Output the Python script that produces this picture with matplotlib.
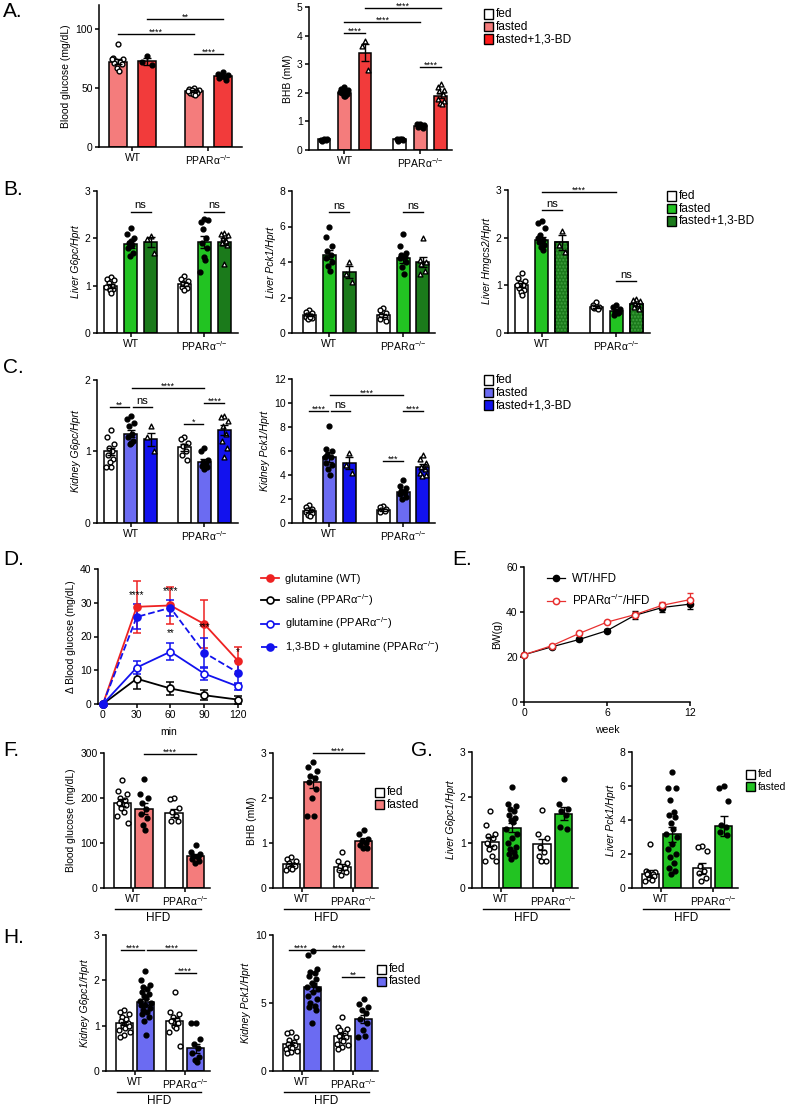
import numpy as np
import matplotlib.pyplot as plt
from matplotlib.patches import Rectangle

plt.rcParams['font.family'] = ['Liberation Sans', 'DejaVu Sans']
plt.rcParams['mathtext.default'] = 'regular'
plt.rcParams['font.size'] = 7.5
plt.rcParams['axes.linewidth'] = 1.1

W, H = 789, 1107
KO = 'PPARα$^{{-}/{-}}$'

RED_L, RED = '#F47C7C', '#F23B3B'
GRN_L, GRN_D = '#22C322', '#1B7A1B'
BLU_L, BLU = '#6B6BF2', '#1212EE'

# ---- A: blood glucose (fasted, fasted+1,3-BD) and BHB
a_glc_means = [72, 72.5, 47, 60]
a_glc_sems = [2.2, 3.0, 0.8, 1.0]
a_glc_pts = [[87, 75, 74, 73, 72, 71, 70, 67, 64, 74],
             [77, 72, 69],
             [50, 49, 48, 48, 47, 46, 46, 45, 44, 47],
             [63, 62, 61, 60, 59, 58, 57, 60]]
a_bhb_means = [0.37, 2.0, 3.4, 0.37, 0.85, 1.9]
a_bhb_sems = [0.02, 0.04, 0.3, 0.02, 0.02, 0.08]
a_bhb_pts = [[0.4, 0.35, 0.38, 0.33, 0.36],
             [2.2, 2.15, 2.1, 2.05, 2.0, 1.98, 1.95, 1.9, 1.88, 2.02],
             [3.8, 3.65, 2.8],
             [0.4, 0.38, 0.35, 0.33, 0.37],
             [0.92, 0.9, 0.88, 0.85, 0.83, 0.8, 0.78, 0.86],
             [2.3, 2.2, 2.1, 2.05, 1.95, 1.8, 1.7, 1.65, 1.62]]

# ---- B: liver genes
b_g6pc_means = [1.0, 1.87, 1.92, 1.03, 1.92, 1.93]
b_g6pc_sems = [0.04, 0.07, 0.1, 0.04, 0.12, 0.08]
b_g6pc_pts = [[1.18, 1.15, 1.12, 1.05, 1.0, 0.97, 0.93, 0.9, 0.85, 0.98],
              [2.22, 2.1, 2.0, 1.9, 1.85, 1.8, 1.7, 1.62, 1.95],
              [2.05, 1.98, 1.7],
              [1.2, 1.15, 1.1, 1.05, 1.02, 0.98, 0.95, 0.9],
              [2.4, 2.35, 2.38, 2.2, 2.0, 1.9, 1.8, 1.6, 1.55, 1.28],
              [2.12, 2.1, 2.08, 2.0, 1.95, 1.9, 1.85, 1.45]]
b_pck1_means = [1.0, 4.4, 3.45, 1.0, 4.2, 4.0]
b_pck1_sems = [0.06, 0.25, 0.33, 0.09, 0.25, 0.28]
b_pck1_pts = [[1.3, 1.2, 1.1, 1.0, 0.95, 0.9, 0.85, 0.8, 0.9],
              [6.0, 5.4, 4.9, 4.6, 4.4, 4.2, 4.0, 3.8, 3.5],
              [4.0, 3.3, 2.9],
              [1.4, 1.3, 1.1, 1.0, 0.9, 0.8, 0.7],
              [5.6, 4.9, 4.5, 4.4, 4.3, 4.2, 4.0, 3.7, 3.3],
              [5.35, 4.1, 4.0, 3.9, 3.5, 3.3]]
b_hmg_means = [1.0, 1.95, 1.9, 0.55, 0.47, 0.6]
b_hmg_sems = [0.04, 0.06, 0.15, 0.02, 0.03, 0.03]
b_hmg_pts = [[1.25, 1.15, 1.1, 1.05, 1.0, 0.95, 0.9, 0.85, 0.8, 1.0],
             [2.35, 2.3, 2.2, 2.05, 1.95, 1.9, 1.85, 1.8, 1.75, 2.0],
             [2.15, 1.85, 1.7],
             [0.65, 0.58, 0.55, 0.52, 0.5, 0.55],
             [0.58, 0.55, 0.5, 0.45, 0.42, 0.38, 0.45],
             [0.72, 0.7, 0.68, 0.62, 0.58, 0.55, 0.5]]

# ---- C: kidney genes
c_g6pc_means = [1.0, 1.25, 1.17, 1.06, 0.85, 1.3]
c_g6pc_sems = [0.05, 0.05, 0.09, 0.05, 0.04, 0.07]
c_g6pc_pts = [[1.3, 1.2, 1.1, 1.05, 1.0, 0.95, 0.9, 0.85, 0.78, 0.78],
              [1.5, 1.45, 1.4, 1.35, 1.25, 1.2, 1.15, 1.1, 1.12],
              [1.35, 1.2, 1.0],
              [1.2, 1.17, 1.12, 1.08, 1.0, 0.95, 0.88],
              [1.05, 1.0, 0.88, 0.85, 0.83, 0.8, 0.78, 0.75],
              [1.5, 1.48, 1.42, 1.35, 1.25, 1.15, 1.05, 0.92]]
c_pck1_means = [1.0, 5.5, 5.0, 1.1, 2.6, 4.7]
c_pck1_sems = [0.08, 0.4, 0.5, 0.06, 0.18, 0.2]
c_pck1_pts = [[1.5, 1.3, 1.2, 1.1, 1.0, 0.9, 0.8, 0.7, 0.6],
              [8.1, 6.2, 6.0, 5.7, 5.5, 5.0, 4.8, 4.5, 4.0, 5.5],
              [5.8, 4.8, 4.2],
              [1.4, 1.3, 1.2, 1.1, 1.0, 0.9],
              [3.6, 3.1, 2.9, 2.7, 2.5, 2.4, 2.2, 2.0],
              [5.7, 5.3, 5.0, 4.7, 4.5, 4.2, 4.0, 3.9]]

# ---- D: glutamine tolerance
d_min = [0, 30, 60, 90, 120]
d_glut_wt = [0, 28.8, 29.2, 23.7, 12.8]
d_glut_wt_err = [0, 7.7, 5.5, 7.0, 4.0]
d_saline_ko = [0, 7.5, 4.6, 2.6, 1.3]
d_saline_ko_err = [0, 3.0, 1.8, 1.5, 1.2]
d_glut_ko = [0, 10.8, 15.5, 9.0, 5.2]
d_glut_ko_err = [0, 2.0, 2.5, 1.8, 1.0]
d_bd_glut_ko = [0, 25.8, 28.5, 15.2, 9.3]
d_bd_glut_ko_err = [0, 3.7, 2.3, 4.3, 3.5]
d_star_x = [30, 60, 60, 90, 120]
d_star_y = [30.8, 31.9, 19.5, 21.4, 14.0]
d_star_txt = ['****', '****', '**', '***', '*']

# ---- E: body weight
e_week = [0, 2, 4, 6, 8, 10, 12]
e_wt = [21, 24.5, 27.8, 31.7, 38.5, 42, 43.5]
e_wt_err = [0.5, 0.6, 0.6, 0.6, 1.8, 1.8, 2.2]
e_ko = [21, 25, 30.5, 35.5, 38.8, 43, 45.5]
e_ko_err = [0.4, 0.5, 0.5, 0.6, 1.2, 1.6, 2.8]

# ---- F/G/H: HFD
f_glc_means = [190, 176, 166, 71]
f_glc_sems = [8, 12, 9, 5]
f_glc_pts = [[240, 215, 210, 200, 195, 190, 185, 178, 170, 160, 145],
             [242, 210, 200, 190, 175, 165, 155, 140, 130],
             [200, 198, 178, 170, 160, 150, 148],
             [95, 80, 75, 72, 68, 65, 60, 55]]
f_bhb_means = [0.53, 2.35, 0.47, 1.05]
f_bhb_sems = [0.03, 0.13, 0.06, 0.06]
f_bhb_pts = [[0.7, 0.65, 0.6, 0.55, 0.52, 0.5, 0.48, 0.45, 0.42, 0.4],
             [2.8, 2.7, 2.6, 2.5, 2.45, 2.35, 2.2, 2.0, 1.6, 1.6],
             [0.8, 0.6, 0.55, 0.5, 0.45, 0.4, 0.35, 0.3],
             [1.3, 1.2, 1.1, 1.05, 1.0, 0.95, 0.9, 0.88]]
g_g6pc_means = [1.02, 1.33, 0.96, 1.64]
g_g6pc_sems = [0.1, 0.1, 0.13, 0.14]
g_g6pc_pts = [[1.7, 1.4, 1.2, 1.15, 1.1, 1.0, 0.9, 0.85, 0.7, 0.6, 0.6],
              [2.22, 1.85, 1.8, 1.75, 1.7, 1.6, 1.55, 1.5, 1.45, 1.3, 1.2,
               1.1, 1.0, 0.9, 0.85, 0.8, 0.75, 0.7, 0.65],
              [1.73, 1.2, 1.1, 0.9, 0.8, 0.7, 0.6, 0.6],
              [2.4, 1.85, 1.75, 1.7, 1.6, 1.35, 1.3]]
g_pck1_means = [0.85, 3.15, 1.15, 3.65]
g_pck1_sems = [0.2, 0.45, 0.3, 0.6]
g_pck1_pts = [[2.6, 1.0, 0.95, 0.9, 0.85, 0.8, 0.7, 0.6, 0.5, 0.4],
              [6.8, 5.9, 5.9, 5.2, 4.5, 4.3, 4.2, 3.8, 3.5, 3.2, 3.0, 2.6,
               2.3, 2.0, 1.8, 1.5, 1.2, 1.0, 0.8],
              [2.5, 2.4, 2.2, 1.3, 1.0, 0.9, 0.6, 0.4],
              [6.0, 5.9, 5.1, 3.7, 3.6, 3.3, 3.1]]
h_g6pc_means = [1.05, 1.52, 1.1, 0.5]
h_g6pc_sems = [0.04, 0.07, 0.08, 0.1]
h_g6pc_pts = [[1.35, 1.3, 1.25, 1.2, 1.15, 1.1, 1.05, 1.0, 0.95, 0.9, 0.85, 0.8, 0.75, 1.0],
              [2.2, 2.0, 1.9, 1.85, 1.8, 1.75, 1.7, 1.65, 1.6, 1.55, 1.5, 1.45,
               1.45, 1.4, 1.35, 1.3, 1.25, 1.2, 1.1, 0.8],
              [1.75, 1.3, 1.25, 1.2, 1.15, 1.1, 1.05, 1.0, 0.95, 0.85, 0.55],
              [1.05, 1.05, 0.7, 0.6, 0.5, 0.4, 0.3, 0.25, 0.2]]
h_pck1_means = [2.0, 6.15, 2.6, 3.85]
h_pck1_sems = [0.12, 0.3, 0.18, 0.3]
h_pck1_pts = [[2.9, 2.8, 2.5, 2.3, 2.1, 2.0, 1.9, 1.8, 1.7, 1.6, 1.5, 1.4, 1.3],
              [8.8, 8.5, 7.5, 7.3, 7.2, 7.0, 6.8, 6.5, 6.3, 6.2, 6.0, 5.8,
               5.5, 5.3, 5.0, 4.8, 4.7, 4.5, 3.5],
              [4.0, 3.2, 3.1, 3.0, 2.8, 2.6, 2.5, 2.3, 2.2, 2.0, 1.9, 1.8, 1.6],
              [5.3, 4.9, 4.7, 4.5, 4.3, 3.8, 3.5, 3.0, 2.6, 2.5]]

fig = plt.figure(figsize=(W / 100, H / 100), dpi=100)


def add_ax(left, top, right, bottom):
    ax = fig.add_axes([left / W, 1 - bottom / H, (right - left) / W, (bottom - top) / H])
    ax.spines[['top', 'right']].set_visible(False)
    ax.tick_params(length=3, width=1.1, pad=1.5, labelsize=7.5)
    return ax


def spread(n):
    pat = np.array([0, -0.26, 0.26, -0.13, 0.13, -0.2, 0.2, -0.06, 0.06, -0.32, 0.32])
    return np.resize(pat, n)


def bar_panel(rect, pos, width, means, sems, pts, colors, marks, ylim, yticks,
              ylabel, xlim, centers, italic=False, hatch_last=False):
    ax = add_ax(*rect)
    for x, m, s, p, c, mk in zip(pos, means, sems, pts, colors, marks):
        ax.bar(x, m, width, color=c, edgecolor='black', linewidth=1.1, zorder=1)
        if hatch_last and c == GRN_D:
            ax.bar(x, m, width, color='none', edgecolor='#3FA03F', linewidth=0,
                   hatch='.....', zorder=1.5)
            ax.bar(x, m, width, color='none', edgecolor='black', linewidth=1.1, zorder=1.6)
        xs = x + spread(len(p)) * width
        if mk == '.':
            ax.scatter(xs, p, s=12, color='black', zorder=3, clip_on=False)
        else:
            ax.scatter(xs, p, s=12, marker=mk, facecolor='white', edgecolor='black',
                       linewidth=1, zorder=3, clip_on=False)
        ax.errorbar(x, m, yerr=s, fmt='none', ecolor='black', elinewidth=1,
                    capsize=3, capthick=1, zorder=4)
    ax.set_xlim(xlim)
    ax.set_ylim(ylim)
    ax.set_yticks(yticks)
    ax.set_xticks(centers)
    ax.set_xticklabels(['WT', KO])
    ax.set_ylabel(ylabel, fontsize=7.5, style='italic' if italic else 'normal', labelpad=3)
    return ax


def sig(ax, x1, x2, y, txt):
    ax.plot([x1, x2], [y, y], color='black', lw=1, clip_on=False)
    if txt == 'ns':
        ax.annotate(txt, ((x1 + x2) / 2, y), xytext=(0, 1), textcoords='offset points',
                    ha='center', va='bottom', fontsize=8)
    else:
        ax.annotate(txt, ((x1 + x2) / 2, y), xytext=(0, -1.8), textcoords='offset points',
                    ha='center', va='bottom', fontsize=6.5)


def hfd(ax, x1, x2):
    tr = ax.get_xaxis_transform()
    ax.plot([x1, x2], [-0.155, -0.155], transform=tr, color='black', lw=1, clip_on=False)
    ax.text((x1 + x2) / 2, -0.18, 'HFD', transform=tr, ha='center', va='top', fontsize=8.5)


def legend_boxes(x, y, labels, colors, dy=12.5, fs=8.6):
    for i, (lab, c) in enumerate(zip(labels, colors)):
        yy = y + i * dy
        fig.add_artist(Rectangle((x / W, 1 - (yy + 4.5) / H), 9 / W, 9 / H,
                                 transform=fig.transFigure, facecolor=c,
                                 edgecolor='black', lw=1))
        fig.text((x + 12) / W, 1 - yy / H, lab, va='center', fontsize=fs)


def letter(x, y, txt):
    fig.text(x / W, 1 - y / H, txt, fontsize=15, va='top')


pos3 = [0, 1, 2, 3.7, 4.7, 5.7]
pos4 = [0, 1, 2.4, 3.4]
cen3 = [1, 4.7]
cen4 = [0.5, 2.9]
xl3 = (-0.68, 6.38)
xl4 = (-0.86, 4.07)

# A
letter(3, 2, 'A.')
ax = bar_panel((99, 5, 242, 147), [0, 1, 2.62, 3.62], 0.62, a_glc_means, a_glc_sems,
               a_glc_pts, [RED_L, RED] * 2, ['o', '.'] * 2, (0, 120), [0, 50, 100],
               'Blood glucose (mg/dL)', (-0.655, 4.28), [0.5, 3.12])
sig(ax, 0, 2.62, 95.5, '****')
sig(ax, 1, 3.62, 108, '**')
sig(ax, 2.62, 3.62, 78.6, '****')

ax = bar_panel((309, 7, 452, 150), pos3, 0.63, a_bhb_means, a_bhb_sems, a_bhb_pts,
               ['white', RED_L, RED] * 2, ['.', '.', '^'] * 2, (0, 5), [0, 1, 2, 3, 4, 5],
               'BHB (mM)', (-0.73, 6.24), cen3)
sig(ax, 1, 2, 4.09, '****')
sig(ax, 1, 4.7, 4.48, '****')
sig(ax, 2, 5.7, 4.97, '****')
sig(ax, 4.7, 5.7, 2.9, '****')
legend_boxes(484, 14, ['fed', 'fasted', 'fasted+1,3-BD'], ['white', RED_L, '#FF1A1A'])

# B
letter(3, 180, 'B.')
ax = bar_panel((97, 191, 238, 333), pos3, 0.65, b_g6pc_means, b_g6pc_sems, b_g6pc_pts,
               ['white', GRN_L, GRN_D] * 2, ['o', '.', '^'] * 2, (0, 3), [0, 1, 2, 3],
               'Liver G6pc/Hprt', xl3, cen3, italic=True)
sig(ax, 1, 2, 2.56, 'ns')
sig(ax, 4.7, 5.7, 2.56, 'ns')

ax = bar_panel((292, 191, 435, 333), pos3, 0.65, b_pck1_means, b_pck1_sems, b_pck1_pts,
               ['white', GRN_L, GRN_D] * 2, ['o', '.', '^'] * 2, (0, 8), [0, 2, 4, 6, 8],
               'Liver Pck1/Hprt', (-0.85, 6.3), cen3, italic=True)
sig(ax, 1, 2, 6.8, 'ns')
sig(ax, 4.7, 5.7, 6.8, 'ns')

ax = bar_panel((508, 190, 650, 333), pos3, 0.65, b_hmg_means, b_hmg_sems, b_hmg_pts,
               ['white', GRN_L, GRN_D] * 2, ['o', '.', '^'] * 2, (0, 3), [0, 1, 2, 3],
               'Liver Hmgcs2/Hprt', xl3, cen3, italic=True, hatch_last=True)
sig(ax, 1, 4.7, 2.96, '****')
sig(ax, 1, 2, 2.58, 'ns')
sig(ax, 4.7, 5.7, 1.09, 'ns')
legend_boxes(667, 196, ['fed', 'fasted', 'fasted+1,3-BD'], ['white', GRN_L, GRN_D])

# C
letter(3, 358, 'C.')
ax = bar_panel((97, 380, 238, 523), pos3, 0.65, c_g6pc_means, c_g6pc_sems, c_g6pc_pts,
               ['white', BLU_L, BLU] * 2, ['o', '.', '^'] * 2, (0, 2), [0, 1, 2],
               'Kidney G6pc/Hprt', xl3, cen3, italic=True)
sig(ax, -0.05, 0.9, 1.62, '**')
sig(ax, 1.1, 2.05, 1.62, 'ns')
sig(ax, 1.05, 4.7, 1.89, '****')
sig(ax, 3.7, 4.65, 1.38, '*')
sig(ax, 4.7, 5.7, 1.68, '****')

ax = bar_panel((292, 379, 435, 523), pos3, 0.65, c_pck1_means, c_pck1_sems, c_pck1_pts,
               ['white', BLU_L, BLU] * 2, ['o', '.', '^'] * 2, (0, 12),
               [0, 2, 4, 6, 8, 10, 12], 'Kidney Pck1/Hprt', (-0.85, 6.3), cen3, italic=True)
sig(ax, 0, 0.97, 9.33, '****')
sig(ax, 1.08, 2.05, 9.33, 'ns')
sig(ax, 1.05, 4.7, 10.67, '****')
sig(ax, 3.7, 4.7, 5.17, '***')
sig(ax, 4.7, 5.7, 9.33, '****')
legend_boxes(484, 380, ['fed', 'fasted', 'fasted+1,3-BD'], ['white', BLU_L, BLU])

# D
letter(3, 550, 'D.')
ax = add_ax(98, 569, 240, 704)
series = [(d_glut_wt, d_glut_wt_err, '#EE2222', '-', True, 'glutamine (WT)'),
          (d_saline_ko, d_saline_ko_err, 'black', '-', False, 'saline (' + KO + ')'),
          (d_glut_ko, d_glut_ko_err, BLU, '-', False, 'glutamine (' + KO + ')'),
          (d_bd_glut_ko, d_bd_glut_ko_err, BLU, '--', True,
           '1,3-BD + glutamine (' + KO + ')')]
handles = []
for ys, es, c, ls, filled, lab in series:
    ax.errorbar(d_min, ys, yerr=es, fmt='none', ecolor=c, elinewidth=1.1, capsize=3,
                capthick=1.1, zorder=2, clip_on=False)
    ln, = ax.plot(d_min, ys, ls=ls, color=c, lw=1.3, marker='o', ms=5,
                  mfc=c if filled else 'white', mec=c, mew=1.2, zorder=3, clip_on=False,
                  label=lab)
    handles.append(ln)
for x, y, t in zip(d_star_x, d_star_y, d_star_txt):
    ax.text(x, y, t, ha='center', va='bottom', fontsize=7)
ax.set_xlim(-4.4, 121.8)
ax.set_ylim(0, 40)
ax.set_xticks(d_min)
ax.set_yticks([0, 10, 20, 30, 40])
ax.set_xlabel('min', fontsize=7.5, labelpad=5)
ax.set_ylabel('Δ Blood glucose (mg/dL)', fontsize=7.5, labelpad=3)
fig.legend(handles=handles, loc='upper left', bbox_to_anchor=(261 / W, 1 - 574 / H),
           frameon=False, fontsize=7.9, handlelength=1.6, labelspacing=0.72,
           handletextpad=0.6, borderpad=0, borderaxespad=0)

# E
letter(452, 550, 'E.')
ax = add_ax(524, 567, 690, 702)
ax.errorbar(e_week, e_wt, yerr=e_wt_err, fmt='none', ecolor='black', elinewidth=0.9,
            capsize=2.5, zorder=2, clip_on=False)
ax.errorbar(e_week, e_ko, yerr=e_ko_err, fmt='none', ecolor='#E83030', elinewidth=0.9,
            capsize=2.5, zorder=2, clip_on=False)
l1, = ax.plot(e_week, e_wt, color='black', lw=0.9, marker='o', ms=4.5, zorder=3,
              clip_on=False, label='WT/HFD')
l2, = ax.plot(e_week, e_ko, color='#E83030', lw=0.9, marker='o', ms=4.5, mfc='white',
              mew=1.1, zorder=4, clip_on=False, label=KO + '/HFD')
ax.set_xlim(0, 12)
ax.set_ylim(0, 60)
ax.set_xticks([0, 6, 12])
ax.set_yticks([0, 20, 40, 60])
ax.set_xlabel('week', fontsize=7.5, labelpad=5)
ax.set_ylabel('BW(g)', fontsize=7.5, labelpad=3)
fig.legend(handles=[l1, l2], loc='upper left', bbox_to_anchor=(547 / W, 1 - 573 / H),
           frameon=False, fontsize=8.3, handlelength=1.6, labelspacing=0.65,
           handletextpad=0.6, borderpad=0, borderaxespad=0)

# F
letter(3, 741, 'F.')
ax = bar_panel((104, 753, 210, 888), pos4, 0.8, f_glc_means, f_glc_sems, f_glc_pts,
               ['white', RED_L] * 2, ['o', '.'] * 2, (0, 300), [0, 100, 200, 300],
               'Blood glucose (mg/dL)', xl4, cen4)
sig(ax, 1, 3.4, 297.8, '****')
hfd(ax, -0.35, 3.65)

ax = bar_panel((273, 753, 378, 888), pos4, 0.8, f_bhb_means, f_bhb_sems, f_bhb_pts,
               ['white', RED_L] * 2, ['o', '.'] * 2, (0, 3), [0, 1, 2, 3],
               'BHB (mM)', xl4, cen4)
sig(ax, 1, 3.4, 3.0, '****')
hfd(ax, -0.35, 3.65)
legend_boxes(375, 792, ['fed', 'fasted'], ['white', RED_L])

# G
letter(411, 741, 'G.')
ax = bar_panel((472, 752, 578, 888), pos4, 0.8, g_g6pc_means, g_g6pc_sems, g_g6pc_pts,
               ['white', GRN_L] * 2, ['o', '.'] * 2, (0, 3), [0, 1, 2, 3],
               'Liver G6pc1/Hprt', xl4, cen4, italic=True)
hfd(ax, -0.35, 3.65)
ax = bar_panel((632, 752, 738, 888), pos4, 0.8, g_pck1_means, g_pck1_sems, g_pck1_pts,
               ['white', GRN_L] * 2, ['o', '.'] * 2, (0, 8), [0, 2, 4, 6, 8],
               'Liver Pck1/Hprt', xl4, cen4, italic=True)
hfd(ax, -0.35, 3.65)
legend_boxes(746, 774, ['fed', 'fasted'], ['white', GRN_L], fs=7.5)

# H
letter(3, 928, 'H.')
ax = bar_panel((106, 935, 210, 1071), pos4, 0.8, h_g6pc_means, h_g6pc_sems, h_g6pc_pts,
               ['white', BLU_L] * 2, ['o', '.'] * 2, (0, 3), [0, 1, 2, 3],
               'Kidney G6pc1/Hprt', xl4, cen4, italic=True)
sig(ax, -0.15, 0.95, 2.67, '****')
sig(ax, 1.1, 3.4, 2.67, '****')
sig(ax, 2.4, 3.4, 2.16, '****')
hfd(ax, -0.35, 3.65)
ax = bar_panel((273, 935, 378, 1071), pos4, 0.8, h_pck1_means, h_pck1_sems, h_pck1_pts,
               ['white', BLU_L] * 2, ['o', '.'] * 2, (0, 10), [0, 5, 10],
               'Kidney Pck1/Hprt', xl4, cen4, italic=True)
sig(ax, -0.1, 0.95, 8.9, '****')
sig(ax, 1.05, 3.4, 8.9, '****')
sig(ax, 2.4, 3.4, 6.9, '**')
hfd(ax, -0.35, 3.65)
legend_boxes(377, 969, ['fed', 'fasted'], ['white', BLU_L])

fig.savefig('out.png', dpi=100)
